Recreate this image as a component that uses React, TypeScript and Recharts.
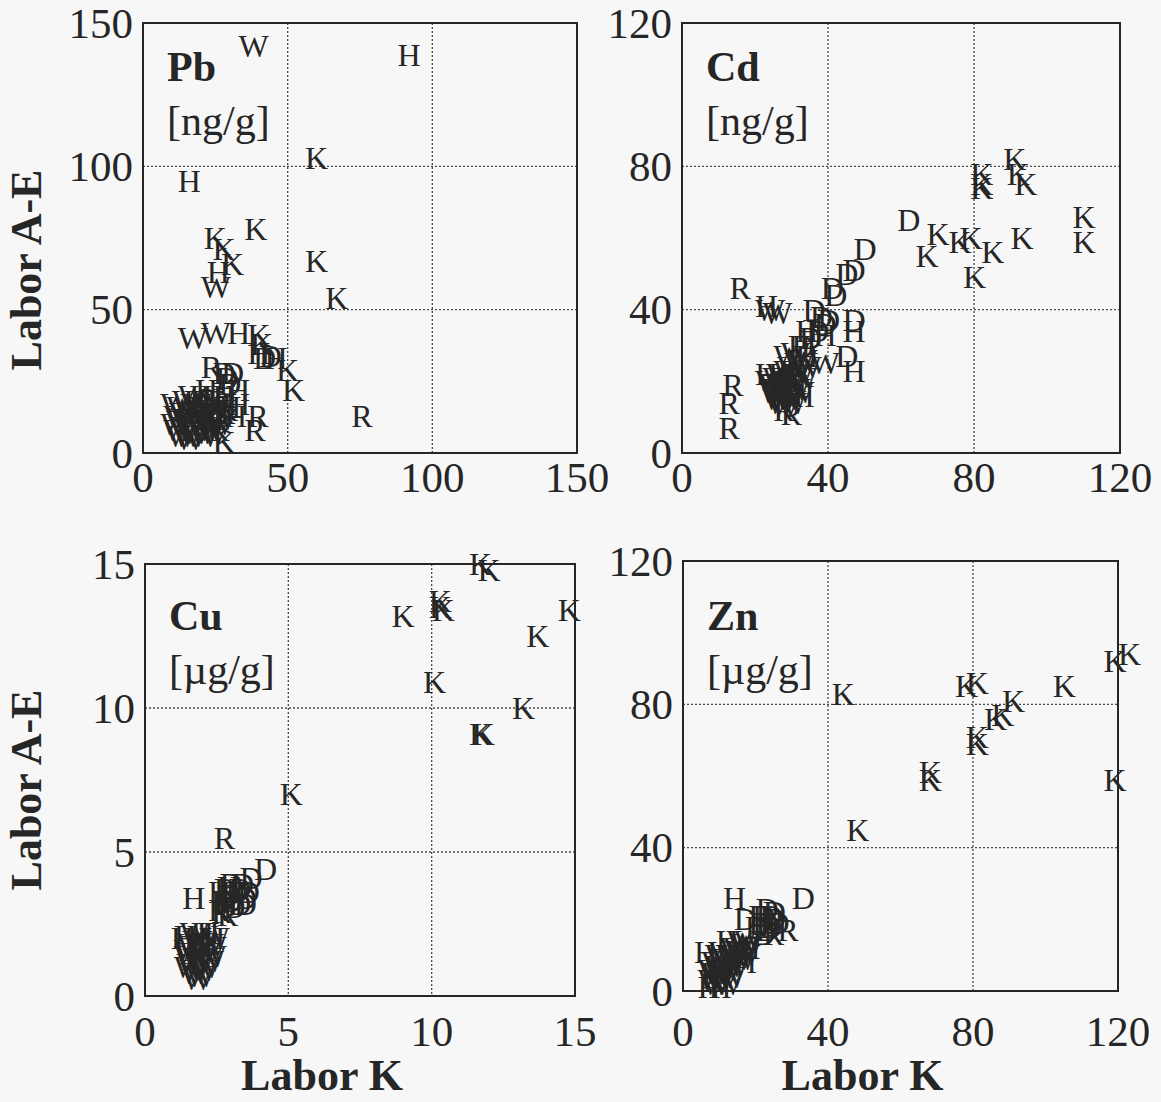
import React from "react"
import { CartesianGrid, Label, ReferenceArea, Scatter, ScatterChart, XAxis, YAxis } from "recharts"

// Laborvergleich: Labor K (x) gegen Labor A-E (y), Buchstabe = Labor
// Punkte als [x, y]; x = linker Rand des Buchstabens, y = Buchstabenmitte

const pbTicks = [0, 50, 100, 150]
const pbK = [[56, 103], [35, 78], [21, 75], [24, 71], [27, 66], [56, 67], [63, 54], [36, 41], [37, 38], [46, 29], [48, 22], [24, 4], [22, 8], [20, 12], [25, 15], [18, 14], [22, 11], [24, 14]]
const pbH = [[88, 139], [12, 95], [22, 63], [29, 42], [36, 35], [42, 33], [29, 22], [29, 17], [28, 13], [14, 18], [20, 19], [24, 20], [18, 22], [26, 16], [12, 14], [16, 20], [22, 14]]
const pbW = [[33, 142], [20, 58], [12, 40], [20, 42], [6, 10], [8, 6], [10, 12], [12, 8], [14, 15], [16, 6], [18, 10], [8, 16], [10, 18], [12, 20], [7, 13], [15, 11], [17, 18], [19, 7], [11, 5], [13, 17], [9, 9], [16, 14], [6, 17], [22, 12],
  [7, 8], [9, 14], [11, 11], [13, 7], [15, 9], [17, 12], [19, 15], [21, 10], [10, 6], [14, 12], [16, 16], [12, 13], [18, 8], [8, 11], [20, 17]]
const pbR = [[20, 30], [36, 13], [35, 8], [72, 13]]
const pbD = [[38, 33], [40, 34], [24, 28], [27, 28], [25, 26], [26, 24], [22, 18], [20, 15]]

const cdTicks = [0, 40, 80, 120]
const cdK = [[67, 61], [64, 55], [73, 59], [76, 60], [82, 56], [77, 49], [90, 60], [107, 66], [107, 59], [79, 78], [79, 75], [79, 74], [88, 82], [89, 78], [91, 75]]
const cdD = [[59, 65], [47, 57], [44, 51], [42, 50], [38, 46], [39, 44], [33, 40], [35, 38], [37, 37], [44, 37], [34, 34], [42, 27], [30, 30], [32, 32], [36, 36]]
const cdH = [[20, 41], [44, 34], [31, 34], [44, 23], [30, 16], [20, 22], [28, 20], [31, 27], [29, 30], [36, 33], [27, 16]]
const cdW = [[20, 40], [22, 39], [35, 25], [20, 20], [22, 18], [24, 16], [23, 22], [25, 20], [26, 24], [27, 18], [28, 22], [29, 26], [30, 24], [26, 14], [24, 13], [21, 17], [25, 27], [27, 28], [22, 15], [23, 19],
  [21, 19], [23, 17], [24, 21], [25, 15], [26, 19], [27, 23], [28, 17], [22, 21], [24, 18], [26, 21], [23, 14], [25, 23], [28, 25], [29, 21]]
const cdR = [[13, 46], [11, 19], [10, 14], [10, 7], [27, 11], [25, 12]]

const cuTicks = [0, 5, 10, 15]
const cuK = [[11.3, 15.0], [11.6, 14.8], [9.9, 13.7], [9.9, 13.5], [10.0, 13.4], [8.6, 13.2], [14.4, 13.4], [13.3, 12.5], [9.7, 10.9], [12.8, 10.0], [11.3, 9.1], [11.4, 9.1], [4.7, 7.0]]
const cuR = [[2.4, 5.5], [2.2, 3.0], [2.5, 2.8], [2.3, 2.9]]
const cuD = [[3.8, 4.4], [3.3, 4.1], [3.0, 3.9], [2.8, 3.6], [2.6, 3.3], [3.1, 3.4], [2.4, 3.7], [2.9, 3.2],
  [2.5, 3.5], [2.7, 3.1], [2.9, 3.7], [3.1, 3.2], [2.3, 3.3], [2.6, 3.9], [3.2, 3.6]]
const cuH = [[1.3, 3.4], [0.9, 2.0], [2.0, 2.0], [2.2, 3.6], [2.5, 3.8], [1.6, 2.2], [1.4, 1.8], [2.4, 3.2], [1.0, 2.1], [1.8, 2.2]]
const cuW = [[1.0, 1.0], [1.2, 0.8], [1.4, 1.2], [1.6, 1.5], [1.2, 1.5], [1.0, 1.4], [1.8, 1.7], [1.3, 0.6], [1.5, 0.9], [1.7, 1.2], [1.1, 1.8], [1.9, 2.0],
  [1.1, 1.1], [1.3, 1.3], [1.5, 1.6], [1.2, 0.9], [1.4, 0.7], [1.6, 1.0], [1.8, 1.4], [1.0, 1.6], [1.3, 1.9], [1.7, 1.8], [1.5, 2.1], [1.2, 2.2]]

const znTicks = [0, 40, 80, 120]
const znK = [[41, 83], [75, 85], [78, 86], [102, 85], [116, 92], [120, 94], [88, 81], [85, 77], [83, 76], [78, 71], [78, 69], [65, 61], [65, 59], [116, 59], [45, 45]]
const znH = [[11, 26], [4, 1], [7, 1], [14, 8], [15, 12], [3, 11], [9, 14]]
const znD = [[30, 26], [14, 20], [18, 21], [20, 23], [22, 20], [21, 18], [19, 16], [23, 19], [17, 18], [20, 19], [19, 21], [22, 22], [21, 21], [18, 19], [20, 17]]
const znR = [[26, 17], [22, 16]]
const znW = [[5, 5], [6, 3], [7, 8], [8, 6], [9, 10], [10, 12], [11, 9], [12, 11], [13, 13], [6, 7], [8, 2], [4, 6], [10, 7], [12, 14], [7, 11],
  [5, 8], [6, 5], [7, 4], [8, 9], [9, 7], [10, 10], [11, 12], [5, 2], [6, 10], [9, 4], [12, 9], [14, 14], [13, 10], [4, 3]]

const FONT = '"Liberation Serif", "Times New Roman", serif'
const INK = "#262626"
const BG = "#f7f7f7"
const YAXIS_W = 165
const XAXIS_H = 110
const MARGIN_TOP = 32
const MARGIN_RIGHT = 45

const PANELS = [
  { key: "pb", title: "Pb", unit: "[ng/g]", ticks: pbTicks, left: 143, top: 23, w: 434, h: 430, xTickDy: 24, yLabel: true, yLabelDy: 32, xLabel: false, xLabelDy: 0, titleDy: 58,
    series: [["W", pbW], ["H", pbH], ["R", pbR], ["D", pbD], ["K", pbK]] },
  { key: "cd", title: "Cd", unit: "[ng/g]", ticks: cdTicks, left: 682, top: 23, w: 438, h: 430, xTickDy: 24, yLabel: false, yLabelDy: 0, xLabel: false, xLabelDy: 0, titleDy: 58,
    series: [["W", cdW], ["H", cdH], ["R", cdR], ["D", cdD], ["K", cdK]] },
  { key: "cu", title: "Cu", unit: "[µg/g]", ticks: cuTicks, left: 145, top: 564, w: 430, h: 432, xTickDy: 35, yLabel: true, yLabelDy: 10, xLabel: true, xLabelDy: 79, titleDy: 66,
    series: [["W", cuW], ["H", cuH], ["R", cuR], ["D", cuD], ["K", cuK]] },
  { key: "zn", title: "Zn", unit: "[µg/g]", ticks: znTicks, left: 683, top: 561, w: 435, h: 430, xTickDy: 40, yLabel: false, yLabelDy: 0, xLabel: true, xLabelDy: 84, titleDy: 69,
    series: [["W", znW], ["H", znH], ["R", znR], ["D", znD], ["K", znK]] },
] as const

const toPoints = (arr: readonly (readonly number[])[]) => arr.map(([x, y]) => ({ x, y }))

function letterShape(letter: string) {
  return (props: any) => (
    <text x={props.cx} y={props.cy} fontFamily={FONT} fontSize={32} fill={INK} dominantBaseline="central">
      {letter}
    </text>
  )
}

function Panel({ p }: { p: (typeof PANELS)[number] }) {
  const max = p.ticks[p.ticks.length - 1]
  const chartLeft = p.left - YAXIS_W
  const chartTop = p.top - MARGIN_TOP
  const width = YAXIS_W + p.w + MARGIN_RIGHT
  const height = MARGIN_TOP + p.h + XAXIS_H

  return (
    <div style={{ position: "absolute", left: chartLeft, top: chartTop }}>
      <ScatterChart width={width} height={height} margin={{ top: MARGIN_TOP, right: MARGIN_RIGHT, bottom: 0, left: 0 }}>
        <CartesianGrid stroke="#4a4a4a" strokeWidth={1.3} strokeDasharray="2 2" />
        <XAxis
          type="number"
          dataKey="x"
          domain={[0, max]}
          ticks={p.ticks as unknown as number[]}
          interval={0}
          height={XAXIS_H}
          axisLine={false}
          tickLine={false}
          tickSize={0}
          tickMargin={0}
          tick={(t: any) => (
            <text x={t.x} y={t.y + p.xTickDy} textAnchor="middle" dominantBaseline="central" fontFamily={FONT} fontSize={43} fill={INK}>
              {t.payload.value}
            </text>
          )}
        >
          {p.xLabel && (
            <Label
              content={(l: any) => (
                <text x={l.viewBox.x + l.viewBox.width / 2 - 38} y={l.viewBox.y + p.xLabelDy} textAnchor="middle" dominantBaseline="central" fontFamily={FONT} fontSize={44} fontWeight="bold" fill={INK}>
                  Labor K
                </text>
              )}
            />
          )}
        </XAxis>
        <YAxis
          type="number"
          dataKey="y"
          domain={[0, max]}
          ticks={p.ticks as unknown as number[]}
          interval={0}
          width={YAXIS_W}
          axisLine={false}
          tickLine={false}
          tickSize={0}
          tickMargin={0}
          tick={(t: any) => (
            <text x={t.x - 10} y={t.y} textAnchor="end" dominantBaseline="central" fontFamily={FONT} fontSize={43} fill={INK}>
              {t.payload.value}
            </text>
          )}
        >
          {p.yLabel && (
            <Label
              content={(l: any) => {
                const cx = 26 - chartLeft
                const cy = l.viewBox.y + l.viewBox.height / 2 + p.yLabelDy
                return (
                  <text x={cx} y={cy} transform={`rotate(-90 ${cx} ${cy})`} textAnchor="middle" dominantBaseline="central" fontFamily={FONT} fontSize={44} fontWeight="bold" fill={INK}>
                    Labor A-E
                  </text>
                )
              }}
            />
          )}
        </YAxis>
        <ReferenceArea x1={0} x2={max} y1={0} y2={max} fill="none" stroke={INK} strokeWidth={2} ifOverflow="visible">
          <Label
            content={(l: any) => (
              <g fontFamily={FONT} fill={INK}>
                <text x={l.viewBox.x + 24} y={l.viewBox.y + p.titleDy} fontSize={42} fontWeight="bold">
                  {p.title}
                </text>
                <text x={l.viewBox.x + 24} y={l.viewBox.y + p.titleDy + 54} fontSize={42}>
                  {p.unit}
                </text>
              </g>
            )}
          />
        </ReferenceArea>
        {p.series.map(([letter, data]) => (
          <Scatter key={letter} data={toPoints(data)} shape={letterShape(letter)} isAnimationActive={false} />
        ))}
      </ScatterChart>
    </div>
  )
}

export default function App() {
  return (
    <div style={{ position: "absolute", left: 0, top: 0, width: 1161, height: 1102, background: BG, overflow: "hidden" }}>
      {PANELS.map((p) => (
        <Panel key={p.key} p={p} />
      ))}
    </div>
  )
}
